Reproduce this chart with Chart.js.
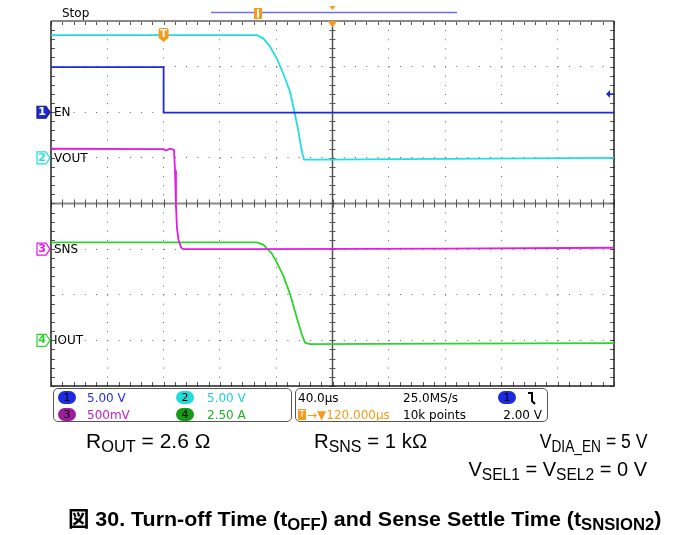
<!DOCTYPE html>
<html>
<head>
<meta charset="utf-8">
<script src="https://cdn.jsdelivr.net/npm/chart.js@4.4.1/dist/chart.umd.min.js"></script>
<style>
  body { margin: 0; background: #fff; }
  #wrap { position: relative; width: 673px; height: 535px; overflow: hidden; font-family: "DejaVu Sans", sans-serif; }
  #scope { position: absolute; left: 0; top: 0; }
  .t { position: absolute; white-space: nowrap; font-size: 12px; line-height: 14px; color: #000; }
  .box { position: absolute; border: 1px solid #555; border-radius: 5px; }
  .pill { position: absolute; width: 18px; height: 13px; border-radius: 7px; font-size: 11px; line-height: 13px; text-align: center; color: #000; }
  .cap { position: absolute; white-space: nowrap; font-family: "Liberation Sans", "Noto Sans CJK JP", sans-serif; font-size: 20px; line-height: 22px; color: #000; transform-origin: left center; }
  .cap sub { font-size: 0.78em; vertical-align: -4px; line-height: 0; }
  .right { transform-origin: right center; }
  .bold { font-weight: bold; font-size: 21px; line-height: 24px; }
</style>
</head>
<body>
<div id="wrap">
  <canvas id="scope" width="673" height="535"></canvas>

  <span class="t" style="left:62px;top:6px">Stop</span>

  <!-- settings panel -->
  <div class="box" style="left:53px;top:388px;width:237px;height:32px"></div>
  <div class="box" style="left:295px;top:388px;width:251px;height:32px"></div>

  <span class="pill" style="left:58px;top:391px;background:#1c2be0">1</span>
  <span class="t" style="left:87px;top:391px;color:#2a2af0">5.00 V</span>
  <span class="pill" style="left:176px;top:391px;background:#22dcdc">2</span>
  <span class="t" style="left:207px;top:391px;color:#1fcfd8">5.00 V</span>
  <span class="pill" style="left:58px;top:408px;background:#9c1c9c">3</span>
  <span class="t" style="left:87px;top:408px;color:#c41ec4">500mV</span>
  <span class="pill" style="left:176px;top:408px;background:#149a14">4</span>
  <span class="t" style="left:207px;top:408px;color:#22b022">2.50 A</span>

  <span class="t" style="left:298px;top:391px">40.0µs</span>
  <span class="t" style="left:298px;top:409px;width:8px;height:11px;background:#f59a1a;color:#fff;font-size:9px;line-height:11px;text-align:center;border-radius:1px">T</span>
  <span class="t" style="left:307px;top:408px;color:#f59a1a">→▼120.000µs</span>
  <span class="t" style="left:403px;top:391px">25.0MS/s</span>
  <span class="t" style="left:403px;top:408px">10k points</span>
  <span class="pill" style="left:498px;top:391px;background:#1c2be0">1</span>
  <svg style="position:absolute;left:527px;top:391px" width="10" height="14"><path d="M1 2 H5 V10 L8 13" fill="none" stroke="#000" stroke-width="2"/></svg>
  <span class="t" style="right:131px;top:408px">2.00 V</span>

  <!-- captions -->
  <span class="cap" style="left:86px;top:430px;transform:scaleX(1.05)">R<sub>OUT</sub> = 2.6 Ω</span>
  <span class="cap" style="left:314px;top:430px;transform:scaleX(1.02)">R<sub>SNS</sub> = 1 kΩ</span>
  <span class="cap right" style="right:26px;top:430px;transform:scaleX(0.88)">V<sub>DIA_EN</sub> = 5 V</span>
  <span class="cap right" style="right:26px;top:458px;transform:scaleX(1.0)">V<sub>SEL1</sub> = V<sub>SEL2</sub> = 0 V</span>
  <span class="cap bold" style="left:68px;top:507px;transform:scaleX(1.02)">図 30. Turn-off Time (t<sub>OFF</sub>) and Sense Settle Time (t<sub>SNSION2</sub>)</span>
</div>

<script>
// Time axis in µs (40 µs/div, trigger at t = 0), vertical values in screen divisions
const enTime = [-80, 0, 0, 320];
const enDiv = [2.99, 2.99, 1.99, 1.99];

const voutTime = [-80, 66.1, 70.8, 75.6, 80.4, 85.0, 89.8, 92.2, 95.7, 98.1, 99.8, 110, 200, 320];
const voutDiv = [3.69, 3.69, 3.62, 3.44, 3.18, 2.85, 2.45, 2.12, 1.60, 1.16, 0.96, 0.96, 0.98, 1.00];

const snsTime = [-80, 0, 1.7, 4.5, 6.7, 7.4, 8.1, 8.8, 9.5, 10.6, 12.4, 13.8, 60, 200, 320];
const snsDiv = [1.20, 1.19, 1.16, 1.20, 1.18, 1.17, 0.73, -0.04, -0.54, -0.80, -0.96, -1.00, -1.00, -0.99, -0.97];

const ioutTime = [-80, 66.1, 70.8, 73.5, 76.5, 80.4, 85.0, 89.8, 94.6, 98.1, 100.5, 104.0, 200, 320];
const ioutDiv = [-0.85, -0.85, -0.90, -0.99, -1.08, -1.29, -1.58, -1.98, -2.50, -2.86, -3.05, -3.08, -3.07, -3.06];

// channel ground markers (divisions) and labels
const chNums = ['1', '2', '3', '4'];
const chNames = ['EN', 'VOUT', 'SNS', 'IOUT'];
const chOffsets = [2, 1, -1, -3];
const chColors = ['#1c2bd6', '#22dede', '#e619e6', '#2ed42e'];

const timeMin = -80, timeMax = 320, timePerDiv = 40, centerTime = 120;
const trigTime = 0;
const trigLevelDiv = 2 + 2.0 / 5.0; // ch1 offset + 2.00 V at 5.00 V/div

function toPoints(xs, ys) {
    return xs.map((t, i) => ({ x: t, y: ys[i] }));
}

const scopeFrame = {
    id: 'scopeFrame',
    beforeDatasetsDraw(chart) {
        const { ctx, chartArea: a, scales: { x, y } } = chart;
        const cx = x.getPixelForValue(centerTime);
        const cy = y.getPixelForValue(0);
        const minorT = timePerDiv / 5;
        ctx.save();

        // center crosshair
        ctx.strokeStyle = '#8a8a8a';
        ctx.lineWidth = 2;
        ctx.beginPath(); ctx.moveTo(a.left, cy); ctx.lineTo(a.right, cy); ctx.stroke();
        ctx.strokeStyle = '#555';
        ctx.lineWidth = 1.5;
        ctx.beginPath(); ctx.moveTo(cx, a.top); ctx.lineTo(cx, a.bottom); ctx.stroke();

        // minor ticks on crosshair and borders
        ctx.strokeStyle = '#555';
        ctx.lineWidth = 1;
        ctx.beginPath();
        for (let t = timeMin; t <= timeMax + 0.01; t += minorT) {
            const px = Math.round(x.getPixelForValue(t)) + 0.5;
            ctx.moveTo(px, cy - 4); ctx.lineTo(px, cy + 4);
            ctx.moveTo(px, a.top); ctx.lineTo(px, a.top + 4);
            ctx.moveTo(px, a.bottom); ctx.lineTo(px, a.bottom - 4);
        }
        for (let v = -4; v <= 4.01; v += 0.2) {
            const py = Math.round(y.getPixelForValue(v)) + 0.5;
            ctx.moveTo(cx - 3, py); ctx.lineTo(cx + 3, py);
            ctx.moveTo(a.left, py); ctx.lineTo(a.left + 4, py);
            ctx.moveTo(a.right, py); ctx.lineTo(a.right - 4, py);
        }
        ctx.stroke();

        // graticule border
        ctx.strokeStyle = '#888';
        ctx.lineWidth = 2;
        ctx.beginPath(); ctx.moveTo(a.left, a.top); ctx.lineTo(a.right, a.top); ctx.stroke();
        ctx.strokeStyle = '#222';
        ctx.lineWidth = 1.5;
        ctx.beginPath();
        ctx.moveTo(a.left, a.top); ctx.lineTo(a.left, a.bottom);
        ctx.lineTo(a.right, a.bottom); ctx.lineTo(a.right, a.top);
        ctx.stroke();
        ctx.restore();
    },
    afterDraw(chart) {
        const { ctx, chartArea: a, scales: { x, y } } = chart;
        const cx = x.getPixelForValue(centerTime);
        const tx = x.getPixelForValue(trigTime);
        ctx.save();

        // record view bar at the top
        ctx.strokeStyle = '#6f6ff0';
        ctx.lineWidth = 1.5;
        ctx.beginPath(); ctx.moveTo(211, 12.5); ctx.lineTo(457, 12.5); ctx.stroke();
        ctx.fillStyle = '#f59a1a';
        ctx.fillRect(254, 8, 8, 11);
        ctx.fillStyle = '#fff';
        ctx.fillRect(257, 9, 2, 9);
        ctx.fillStyle = '#f59a1a';
        ctx.beginPath(); ctx.moveTo(cx - 3, 6); ctx.lineTo(cx + 3, 6); ctx.lineTo(cx, 10); ctx.closePath(); ctx.fill();

        // expansion point marker
        ctx.beginPath(); ctx.moveTo(cx - 5, a.top); ctx.lineTo(cx + 5, a.top); ctx.lineTo(cx, a.top + 6); ctx.closePath(); ctx.fill();

        // trigger position marker
        ctx.beginPath();
        ctx.moveTo(tx - 5, a.top + 9);
        ctx.quadraticCurveTo(tx - 5, a.top + 7, tx - 3, a.top + 7);
        ctx.lineTo(tx + 3, a.top + 7);
        ctx.quadraticCurveTo(tx + 5, a.top + 7, tx + 5, a.top + 9);
        ctx.lineTo(tx + 5, a.top + 17);
        ctx.lineTo(tx, a.top + 21);
        ctx.lineTo(tx - 5, a.top + 17);
        ctx.closePath();
        ctx.fill();

        // trigger level arrow
        const ly = y.getPixelForValue(trigLevelDiv);
        ctx.fillStyle = chColors[0];
        ctx.strokeStyle = chColors[0];
        ctx.lineWidth = 1.5;
        ctx.beginPath(); ctx.moveTo(a.right, ly); ctx.lineTo(a.right - 5, ly); ctx.stroke();
        ctx.beginPath(); ctx.moveTo(a.right - 8, ly); ctx.lineTo(a.right - 4, ly - 4); ctx.lineTo(a.right - 4, ly + 4); ctx.closePath(); ctx.fill();

        // channel ground markers
        chOffsets.forEach((off, i) => {
            const py = y.getPixelForValue(off);
            ctx.beginPath();
            ctx.moveTo(37, py - 6); ctx.lineTo(46, py - 6); ctx.lineTo(50, py);
            ctx.lineTo(46, py + 6); ctx.lineTo(37, py + 6); ctx.closePath();
            ctx.lineWidth = 1.2;
            ctx.strokeStyle = i === 0 ? '#111a80' : chColors[i];
            ctx.fillStyle = i === 0 ? chColors[0] : '#fff';
            ctx.fill();
            ctx.stroke();
        });
        ctx.restore();
    }
};

const chart = new Chart(document.getElementById('scope').getContext('2d'), {
    type: 'line',
    data: {
        datasets: [
            { label: 'EN', data: toPoints(enTime, enDiv), borderColor: chColors[0] },
            { label: 'VOUT', data: toPoints(voutTime, voutDiv), borderColor: chColors[1] },
            { label: 'SNS', data: toPoints(snsTime, snsDiv), borderColor: chColors[2] },
            { label: 'IOUT', data: toPoints(ioutTime, ioutDiv), borderColor: chColors[3] }
        ]
    },
    options: {
        responsive: false,
        animation: false,
        events: [],
        layout: { padding: { left: 51, top: 21, right: 59, bottom: 149 } },
        elements: {
            point: { radius: 0 },
            line: { borderWidth: 1.8, tension: 0, fill: false }
        },
        plugins: { legend: { display: false }, tooltip: { enabled: false } },
        scales: {
            x: {
                type: 'linear', min: timeMin, max: timeMax,
                ticks: { display: false, stepSize: timePerDiv },
                grid: { color: '#666', lineWidth: 1, drawTicks: false },
                border: { display: false, dash: [1, 8.12] }
            },
            y: {
                type: 'linear', min: -4, max: 4,
                ticks: { display: false, stepSize: 1 },
                grid: { color: '#666', lineWidth: 1, drawTicks: false },
                border: { display: false, dash: [1, 10.26] }
            }
        }
    },
    plugins: [scopeFrame]
});

// text overlays tied to the chart scales
(function placeLabels() {
    const wrap = document.getElementById('wrap');
    const y = chart.scales.y, x = chart.scales.x;
    chOffsets.forEach((off, i) => {
        const py = y.getPixelForValue(off);
        const num = document.createElement('span');
        num.className = 't';
        num.textContent = chNums[i];
        num.style.cssText = `left:37px;top:${py - 7}px;width:10px;text-align:center;font-size:11px;font-weight:bold;color:${i === 0 ? '#fff' : chColors[i]}`;
        wrap.appendChild(num);
        const name = document.createElement('span');
        name.className = 't';
        name.textContent = chNames[i];
        name.style.cssText = `left:54px;top:${py - 7}px`;
        wrap.appendChild(name);
    });
    const tx = x.getPixelForValue(trigTime);
    const trig = document.createElement('span');
    trig.className = 't';
    trig.textContent = 'T';
    trig.style.cssText = `left:${tx - 5}px;top:${chart.chartArea.top + 6}px;width:10px;text-align:center;font-size:10px;font-weight:bold;color:#fff`;
    wrap.appendChild(trig);
})();
</script>
</body>
</html>
